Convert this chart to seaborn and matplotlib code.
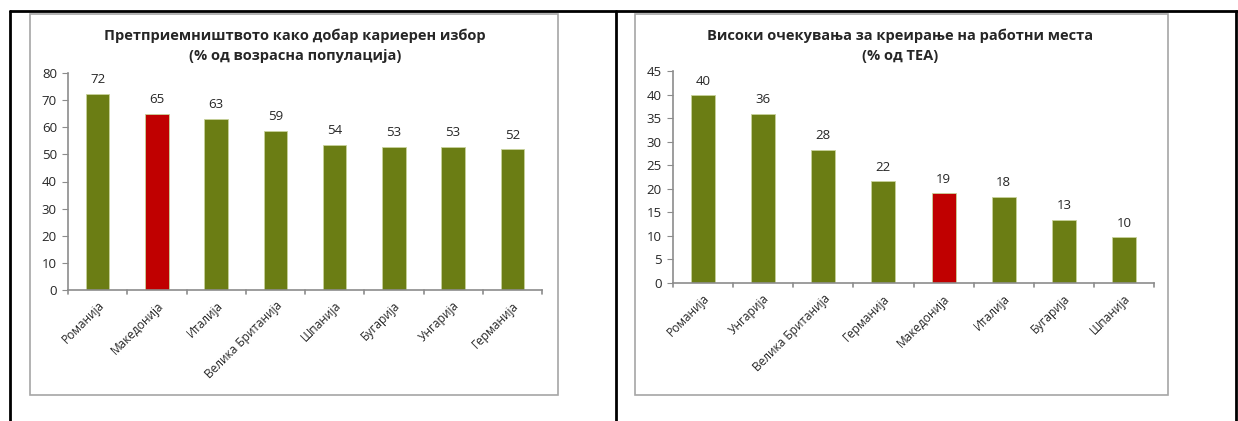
import pandas as pd
import matplotlib.pyplot as plt
import seaborn as sns
from matplotlib.lines import Line2D
from matplotlib.patches import Rectangle

# data
left_countries = ['Романија', 'Македонија', 'Италија', 'Велика Британија',
                  'Шпанија', 'Бугарија', 'Унгарија', 'Германија']
left_values = [72.4, 65.0, 63.1, 58.6, 53.5, 52.8, 52.7, 51.9]
left_title = 'Претприемништвото како добар кариерен избор\n(% од возрасна популација)'

right_countries = ['Романија', 'Унгарија', 'Велика Британија', 'Германија',
                   'Македонија', 'Италија', 'Бугарија', 'Шпанија']
right_values = [39.8, 35.9, 28.3, 21.6, 19.0, 18.3, 13.4, 9.7]
right_title = 'Високи очекувања за креирање на работни места\n(% од ТЕА)'

GREEN = '#6B7D14'
RED = '#C00000'
GRAY = '#8C8C8C'

sns.set_style('white')
plt.rcParams['font.family'] = ['Open Sans', 'DejaVu Sans']

W, H = 1238, 421
fig = plt.figure(figsize=(W / 100, H / 100), dpi=100)


def px_axes(x0, y0, x1, y1):
    return fig.add_axes([x0 / W, 1 - y1 / H, (x1 - x0) / W, (y1 - y0) / H])


# black table frame
for xs, ys in [([10, 1238], [11, 11]), ([10, 10], [11, 421]),
               ([616, 616], [11, 421]), ([1236, 1236], [11, 421])]:
    fig.add_artist(Line2D([x / W for x in xs], [1 - y / H for y in ys],
                          color='black', lw=2))

# gray chart boxes
for x0, x1 in [(30, 558), (635, 1168)]:
    fig.add_artist(Rectangle((x0 / W, 1 - 395 / H), (x1 - x0) / W, (395 - 14) / H,
                             facecolor='none', edgecolor='#A6A6A6', lw=1.2))


def draw(ax, countries, values, title, ymax, step, title_x):
    df = pd.DataFrame({'country': countries, 'value': values})
    pal = {c: (RED if c == 'Македонија' else GREEN) for c in countries}
    sns.barplot(data=df, x='country', y='value', hue='country', palette=pal,
                width=0.4, legend=False, ax=ax, edgecolor='#C8D29A',
                linewidth=0.6, saturation=1)
    ax.set_ylim(0, ymax)
    ax.set_xlim(-0.5, len(countries) - 0.5)
    ax.set_yticks(range(0, ymax + 1, step))
    ax.set_xlabel('')
    ax.set_ylabel('')
    for s in ['top', 'right']:
        ax.spines[s].set_visible(False)
    for s in ['left', 'bottom']:
        ax.spines[s].set_color(GRAY)
        ax.spines[s].set_linewidth(1.2)
    ax.tick_params(axis='y', left=True, length=4, color=GRAY, labelsize=9.5, pad=4)
    ax.tick_params(axis='x', bottom=False, labelsize=8.6, pad=3)
    ax.set_xticks(range(len(countries)))
    ax.set_xticklabels(countries, rotation=45, ha='right', rotation_mode='anchor')
    # category boundary ticks
    for b in range(len(countries) + 1):
        ax.plot([b - 0.5, b - 0.5], [0, -ymax * 0.02], color=GRAY, lw=1.2,
                clip_on=False)
    for i, v in enumerate(values):
        ax.text(i, v + ymax * 0.035, f'{round(v):d}', ha='center', va='bottom',
                fontsize=9.5)
    fig.text(title_x / W, 1 - 46 / H, title, ha='center', va='center',
             fontsize=10.5, fontweight='bold', linespacing=1.5)


ax1 = px_axes(68, 73, 542, 290)
draw(ax1, left_countries, left_values, left_title, 80, 10, 295)

ax2 = px_axes(673, 71, 1154, 283)
draw(ax2, right_countries, right_values, right_title, 45, 5, 900)

fig.savefig('out.png', dpi=100)
